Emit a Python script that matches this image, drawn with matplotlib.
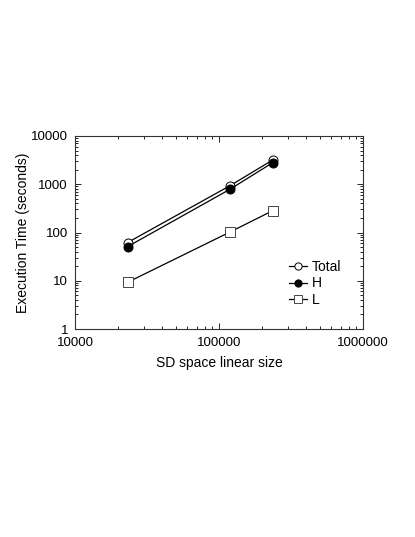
import matplotlib
matplotlib.use("Agg")
import matplotlib.pyplot as plt
from matplotlib.ticker import LogLocator, NullFormatter, FixedLocator, FixedFormatter

plt.rcParams['font.family'] = ['Liberation Sans', 'DejaVu Sans']

sizes = [23200, 119000, 236000]
total = [62, 930, 3180]
h_vals = [51, 785, 2800]
l_vals = [9.3, 102, 283]

xticks = [10000, 100000, 1000000]
xticklabels = ["10000", "100000", "1000000"]
yticks = [1, 10, 100, 1000, 10000]
yticklabels = ["1", "10", "100", "1000", "10000"]

fig = plt.figure(figsize=(4.15, 5.37), dpi=100)
ax = fig.add_axes([75/415, 1-329/537, 288/415, 193/537])

ax.plot(sizes, total, '-', color='black', lw=0.9, marker='o', ms=6.5,
        mfc='white', mec='black', mew=0.7, label='Total', zorder=3)
ax.plot(sizes, h_vals, '-', color='black', lw=0.9, marker='o', ms=6.5,
        mfc='black', mec='black', mew=0.7, label='H', zorder=4)
ax.plot(sizes, l_vals, '-', color='black', lw=0.9, marker='s', ms=7,
        mfc='white', mec='#444444', mew=0.7, label='L', zorder=3)

ax.set_xscale('log')
ax.set_yscale('log')
ax.set_xlim(1e4, 1e6)
ax.set_ylim(1, 1e4)
ax.xaxis.set_major_locator(FixedLocator(xticks))
ax.xaxis.set_major_formatter(FixedFormatter(xticklabels))
ax.yaxis.set_major_locator(FixedLocator(yticks))
ax.yaxis.set_major_formatter(FixedFormatter(yticklabels))
ax.xaxis.set_minor_locator(LogLocator(base=10, subs=range(2, 10)))
ax.yaxis.set_minor_locator(LogLocator(base=10, subs=range(2, 10)))
ax.xaxis.set_minor_formatter(NullFormatter())
ax.yaxis.set_minor_formatter(NullFormatter())
ax.tick_params(which='both', direction='in', top=True, right=True, width=0.6, labelsize=9.5)
ax.tick_params(which='major', length=4)
ax.tick_params(which='minor', length=2)
ax.tick_params(axis='x', which='major', pad=6)
ax.tick_params(axis='y', which='major', pad=5)
for s in ax.spines.values():
    s.set_linewidth(0.8)
    s.set_color('#333333')

ax.set_xlabel('SD space linear size', fontsize=10, labelpad=5)
ax.set_ylabel('Execution Time (seconds)', fontsize=10, labelpad=1)

leg = ax.legend(loc='upper left', bbox_to_anchor=(0.71, 0.41), frameon=False,
                fontsize=10, handlelength=1.3, handletextpad=0.3,
                labelspacing=0.2, borderpad=0.2, markerscale=0.8)

fig.savefig('out.png', dpi=100)
